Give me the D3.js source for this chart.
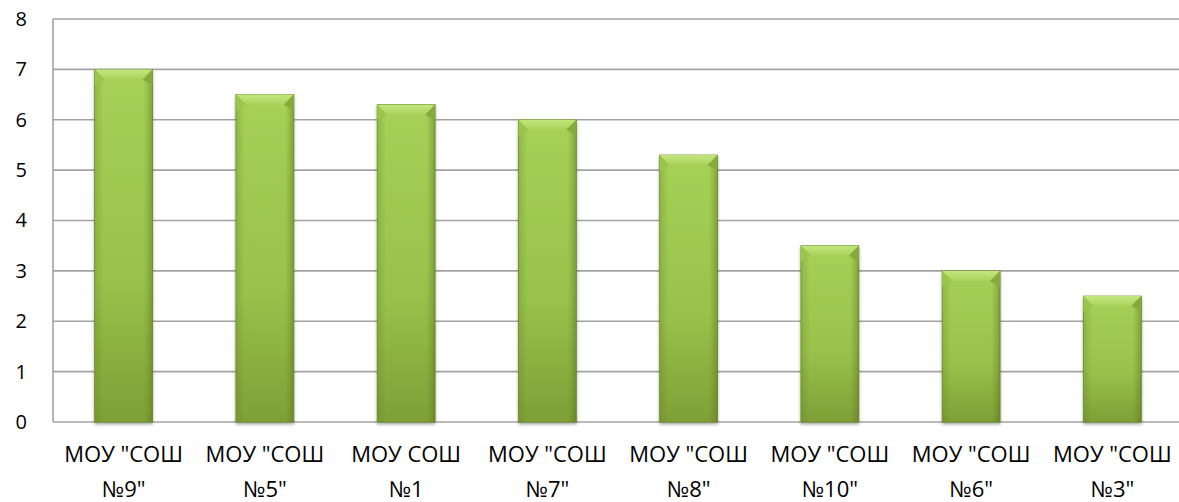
<!DOCTYPE html>
<html>
<head>
<meta charset="utf-8">
<script src="https://cdn.jsdelivr.net/npm/d3@7"></script>
<style>
  body { margin: 0; background: #fff; }
  svg { display: block; }
</style>
</head>
<body>
<div id="chart"></div>
<script>
// data
const schools = ['МОУ "СОШ №9"', 'МОУ "СОШ №5"', 'МОУ СОШ №1', 'МОУ "СОШ №7"',
                 'МОУ "СОШ №8"', 'МОУ "СОШ №10"', 'МОУ "СОШ №6"', 'МОУ "СОШ №3"'];
const labelLines = [
  ['МОУ "СОШ', '№9"'], ['МОУ "СОШ', '№5"'], ['МОУ СОШ', '№1'], ['МОУ "СОШ', '№7"'],
  ['МОУ "СОШ', '№8"'], ['МОУ "СОШ', '№10"'], ['МОУ "СОШ', '№6"'], ['МОУ "СОШ', '№3"']
];
const scores = [7, 6.5, 6.3, 6, 5.3, 3.5, 3, 2.5];
const yTicks = [0, 1, 2, 3, 4, 5, 6, 7, 8];

const width = 1179, height = 502;
const margin = { top: 19, right: -4, bottom: 80, left: 53 };

const svg = d3.select("#chart").append("svg")
  .attr("width", width)
  .attr("height", height);

const defs = svg.append("defs");

const grad = defs.append("linearGradient")
  .attr("id", "barGrad")
  .attr("x1", 0).attr("y1", 0).attr("x2", 0).attr("y2", 1);
grad.append("stop").attr("offset", "0%").attr("stop-color", "#a6d156");
grad.append("stop").attr("offset", "60%").attr("stop-color", "#98c24b");
grad.append("stop").attr("offset", "100%").attr("stop-color", "#7f9f36");

const sideGrad = defs.append("linearGradient")
  .attr("id", "sideGrad")
  .attr("x1", 0).attr("y1", 0).attr("x2", 1).attr("y2", 0);
sideGrad.append("stop").attr("offset", "0%").attr("stop-color", "#5f7d22").attr("stop-opacity", 0.3);
sideGrad.append("stop").attr("offset", "15%").attr("stop-color", "#5f7d22").attr("stop-opacity", 0);
sideGrad.append("stop").attr("offset", "85%").attr("stop-color", "#5f7d22").attr("stop-opacity", 0);
sideGrad.append("stop").attr("offset", "100%").attr("stop-color", "#4f6a18").attr("stop-opacity", 0.45);

const topGrad = defs.append("linearGradient")
  .attr("id", "topGrad")
  .attr("x1", 0).attr("y1", 0).attr("x2", 0).attr("y2", 1);
topGrad.append("stop").attr("offset", "0%").attr("stop-color", "#c4e67f");
topGrad.append("stop").attr("offset", "100%").attr("stop-color", "#a9d35c");

const shadow = defs.append("filter").attr("id", "shadow")
  .attr("x", "-20%").attr("y", "-5%").attr("width", "140%").attr("height", "115%");
shadow.append("feDropShadow")
  .attr("dx", 0).attr("dy", 2).attr("stdDeviation", 1.5)
  .attr("flood-color", "#000").attr("flood-opacity", 0.35);

const x = d3.scaleBand()
  .domain(schools)
  .range([margin.left, width - margin.right])
  .paddingInner(0.59)
  .paddingOuter(0.295);

const y = d3.scaleLinear()
  .domain([0, 8])
  .range([height - margin.bottom, margin.top]);

// gridlines
svg.append("g")
  .selectAll("line")
  .data(yTicks)
  .join("line")
  .attr("x1", margin.left)
  .attr("x2", width - margin.right)
  .attr("y1", d => y(d))
  .attr("y2", d => y(d))
  .attr("stroke", "#a3a3a3")
  .attr("stroke-width", 1.6);

// left axis line
svg.append("line")
  .attr("x1", margin.left).attr("x2", margin.left)
  .attr("y1", y(8)).attr("y2", y(0))
  .attr("stroke", "#a3a3a3")
  .attr("stroke-width", 1.6);

// y labels
const yAxis = svg.append("g")
  .attr("transform", `translate(${margin.left},0)`)
  .call(d3.axisLeft(y).tickValues(yTicks).tickSize(0).tickPadding(26).tickFormat(d3.format("d")));
yAxis.select(".domain").remove();
yAxis.selectAll("text")
  .attr("font-family", "'Open Sans', sans-serif")
  .attr("font-size", 20)
  .attr("fill", "#000");

// bars
const bev = 10;
const bars = svg.append("g")
  .selectAll("g")
  .data(scores)
  .join("g")
  .attr("filter", "url(#shadow)");

bars.append("rect")
  .attr("x", (d, i) => x(schools[i]))
  .attr("y", d => y(d))
  .attr("width", x.bandwidth())
  .attr("height", d => y(0) - y(d))
  .attr("fill", "url(#barGrad)")
  .attr("stroke", "#6e8f2c")
  .attr("stroke-width", 0.8);

bars.append("rect")
  .attr("x", (d, i) => x(schools[i]))
  .attr("y", d => y(d))
  .attr("width", x.bandwidth())
  .attr("height", d => y(0) - y(d))
  .attr("fill", "url(#sideGrad)");

// top bevel
bars.append("path")
  .attr("d", (d, i) => {
    const x0 = x(schools[i]), x1 = x0 + x.bandwidth(), t = y(d);
    return `M${x0},${t}L${x1},${t}L${x1 - bev},${t + bev}L${x0 + bev},${t + bev}Z`;
  })
  .attr("fill", "url(#topGrad)");

bars.append("path")
  .attr("d", (d, i) => {
    const x0 = x(schools[i]), t = y(d);
    return `M${x0},${t}L${x0 + bev},${t + bev}L${x0},${t + bev + 6}Z`;
  })
  .attr("fill", "#9ac64d");

bars.append("path")
  .attr("d", (d, i) => {
    const x1 = x(schools[i]) + x.bandwidth(), t = y(d);
    return `M${x1},${t}L${x1 - bev},${t + bev}L${x1},${t + bev + 6}Z`;
  })
  .attr("fill", "#86ab3c");

// x labels
const xl = svg.append("g")
  .selectAll("text")
  .data(labelLines)
  .join("text")
  .attr("x", (d, i) => x(schools[i]) + x.bandwidth() / 2)
  .attr("y", 462)
  .attr("text-anchor", "middle")
  .attr("font-family", "'Open Sans', sans-serif")
  .attr("font-size", 22)
  .attr("fill", "#000");

xl.selectAll("tspan")
  .data(d => d)
  .join("tspan")
  .attr("x", function () { return d3.select(this.parentNode).attr("x"); })
  .attr("dy", (d, j) => j === 0 ? 0 : 35)
  .text(d => d);
</script>
</body>
</html>
